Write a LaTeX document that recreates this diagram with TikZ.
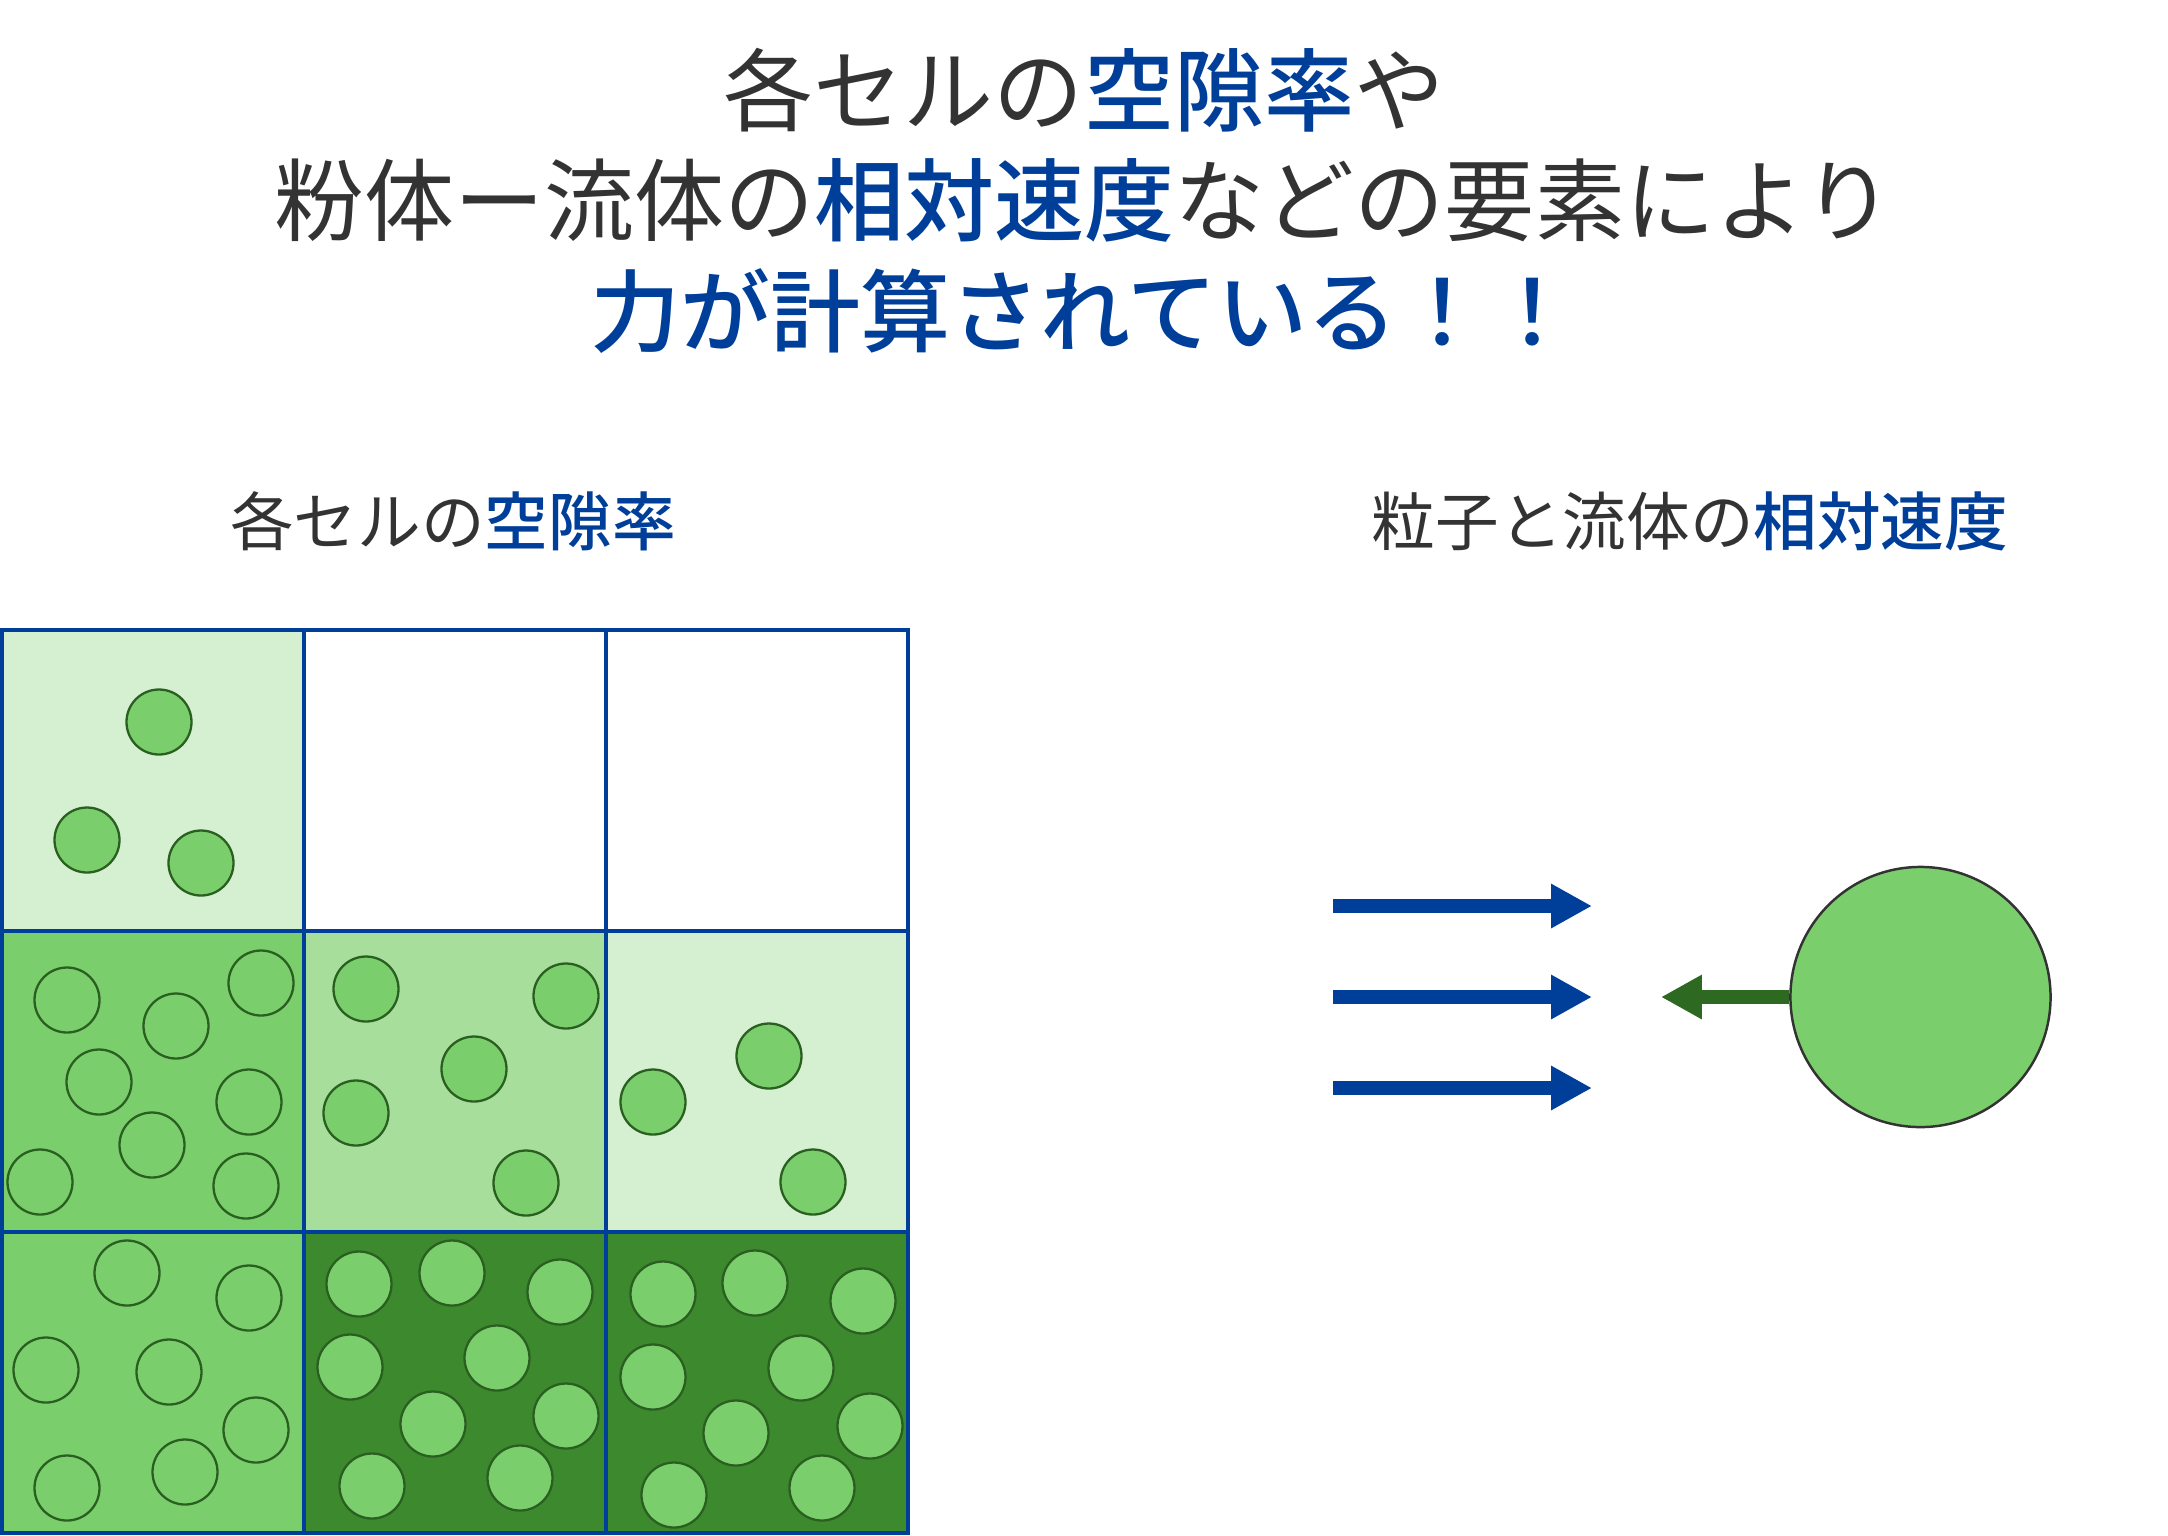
\documentclass[tikz,border=0pt]{standalone}
\usepackage{fontspec}
\newfontfamily\jpfont{Noto Sans CJK JP}[BoldFont={Noto Sans CJK JP Medium}]
\usepackage{tikz}
\usetikzlibrary{arrows.meta}

\definecolor{cellblue}{RGB}{0,63,153}
\definecolor{textgray}{RGB}{51,51,51}
\definecolor{pale}{RGB}{213,239,209}
\definecolor{midpale}{RGB}{168,222,156}
\definecolor{leaf}{RGB}{123,206,108}
\definecolor{forest}{RGB}{60,138,45}
\definecolor{rim}{RGB}{42,95,33}
\definecolor{draggreen}{RGB}{45,105,33}

\newcommand{\blueword}[1]{{\bfseries\color{cellblue}#1}}

\tikzset{
  grain/.style={draw=rim, fill=leaf, line width=0.65pt},
  gridline/.style={draw=cellblue, line width=0.95pt},
  flow/.style={cellblue, line width=3.9pt, -{Triangle[length=11.6pt,width=11.8pt]}},
  drag/.style={draggreen, line width=3.9pt, -{Triangle[length=11.6pt,width=11.8pt]}},
  headline/.style={font=\jpfont\fontsize{25.6}{30}\selectfont, text=textgray, inner sep=0pt},
  subline/.style={font=\jpfont\fontsize{18.1}{22}\selectfont, text=textgray, inner sep=0pt}
}

\begin{document}
\begin{tikzpicture}[x=0.01cm, y=-0.01cm]
\useasboundingbox (0,0) rectangle (2168,1535);

% titles
\node [headline] (headA) at (1084,90) {各セルの\blueword{空隙率}や};
\node [headline] (headB) at (1084,200) {粉体ー流体の\blueword{相対速度}などの要素により};
\node [headline] (headC) at (1084,311) {\blueword{力が計算されている！！}};

\node [subline] (voidlabel) at (453,521) {各セルの\blueword{空隙率}};
\node [subline] (speedlabel) at (1690,521) {粒子と流体の\blueword{相対速度}};

% cell shading
\fill [pale] (2,630) rectangle +(302,301);
\fill [leaf] (2,931) rectangle +(302,301);
\fill [midpale] (304,931) rectangle +(302,301);
\fill [pale] (606,931) rectangle +(302,301);
\fill [leaf] (2,1232) rectangle +(302,301);
\fill [forest] (304,1232) rectangle +(302,301);
\fill [forest] (606,1232) rectangle +(302,301);

% particles
\foreach \x/\y in {159/722, 87/840, 201/863,
    67/1000, 176/1026, 261/983, 99/1082, 249/1102, 152/1145, 40/1182, 246/1186,
    366/989, 566/996, 474/1069, 356/1113, 526/1183,
    769/1056, 653/1102, 813/1182,
    127/1273, 249/1298, 46/1370, 169/1372, 256/1430, 67/1488, 185/1472,
    359/1284, 452/1273, 560/1292, 350/1367, 497/1358, 433/1424, 566/1416, 372/1486, 520/1478,
    663/1294, 755/1283, 863/1301, 653/1377, 801/1368, 736/1433, 870/1426, 674/1495, 822/1488}
  \draw [grain] (\x,\y) circle (32.5);

% cell grid
\draw [gridline] (2,630) rectangle (908,1533);
\foreach \k in {1,2} {
  \draw [gridline] ({2+302*\k},630) -- ({2+302*\k},1533);
  \draw [gridline] (2,{630+301*\k}) -- (908,{630+301*\k});
}

% fluid and particle
\node [circle, draw=textgray, fill=leaf, line width=0.7pt, minimum size=2.6cm, inner sep=0pt] (particle) at (1920.5,997) {};

\coordinate (flowAs) at (1333,906);
\coordinate (flowAe) at (1592,906);
\coordinate (flowBs) at (1333,997);
\coordinate (flowBe) at (1592,997);
\coordinate (flowCs) at (1333,1088);
\coordinate (flowCe) at (1592,1088);
\coordinate (dragtip) at (1661,997);

\draw [flow] (flowAs) -- (flowAe);
\draw [flow] (flowBs) -- (flowBe);
\draw [flow] (flowCs) -- (flowCe);
\draw [drag] (particle.west) -- (dragtip);
\end{tikzpicture}
\end{document}
